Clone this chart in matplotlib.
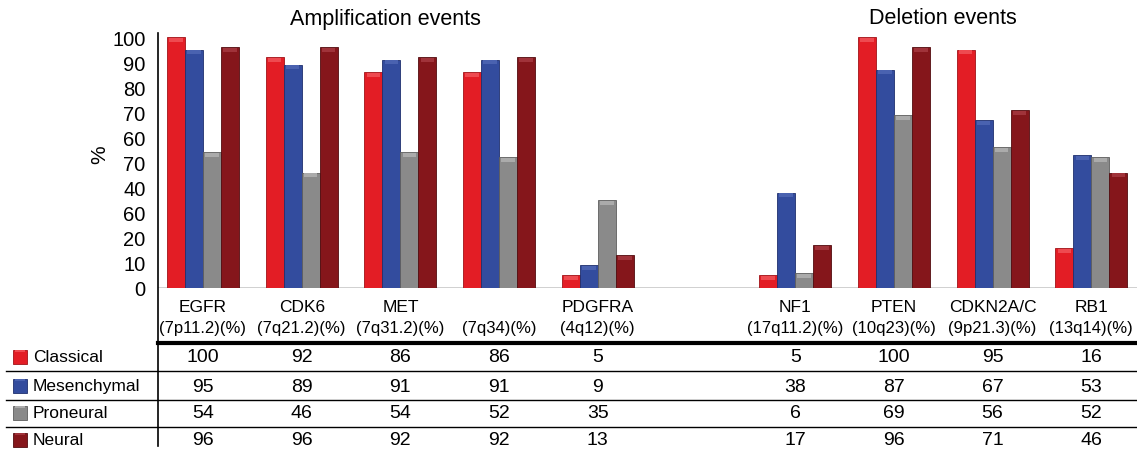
import matplotlib
matplotlib.use("Agg")
import matplotlib.pyplot as plt
import matplotlib.transforms as mtransforms
from matplotlib.lines import Line2D
from matplotlib.patches import Rectangle

plt.rcParams['font.family'] = ['Liberation Sans Narrow', 'Liberation Sans', 'DejaVu Sans']

# ---- data ----
genes = ["EGFR", "CDK6", "MET", "", "PDGFRA", "NF1", "PTEN", "CDKN2A/C", "RB1"]
loci = ["(7p11.2)(%)", "(7q21.2)(%)", "(7q31.2)(%)", "(7q34)(%)", "(4q12)(%)",
        "(17q11.2)(%)", "(10q23)(%)", "(9p21.3)(%)", "(13q14)(%)"]
slots = [0, 1, 2, 3, 4, 6, 7, 8, 9]
subtypes = ["Classical", "Mesenchymal", "Proneural", "Neural"]
classical = [100, 92, 86, 86, 5, 5, 100, 95, 16]
mesenchymal = [95, 89, 91, 91, 9, 38, 87, 67, 53]
proneural = [54, 46, 54, 52, 35, 6, 69, 56, 52]
neural = [96, 96, 92, 92, 13, 17, 96, 71, 46]
ytick_vals = [100, 90, 80, 70, 60, 50, 40, 30, 20, 10, 0]
ytick_labels = ["100", "90", "80", "70", "60", "70", "40", "60", "20", "10", "0"]
group_titles = ["Amplification events", "Deletion events"]

series = [classical, mesenchymal, proneural, neural]
colors = ["#E31D25", "#334C9E", "#8A8A8A", "#85161B"]
edges = ["#A01218", "#1F2F6E", "#5E5E5E", "#520C0F"]
tops = ["#EE4A50", "#4A62B0", "#ABABAB", "#A0333A"]

W, H = 1137, 452
fig = plt.figure(figsize=(W / 100, H / 100), dpi=100)

ax_left, ax_right = 158, 1137
y0_px = 289
ymax = 103
px_per_unit = 2.51
ax_top = y0_px - ymax * px_per_unit
ax = fig.add_axes([ax_left / W, 1 - y0_px / H, (ax_right - ax_left) / W,
                   (y0_px - ax_top) / H])
slot_px = 98.7
c0 = 203
ax.set_xlim((ax_left - c0) / slot_px, (ax_right - c0) / slot_px)
ax.set_ylim(0, ymax)

bw = 18 / slot_px
offsets = [-1.5, -0.5, 0.5, 1.5]
for vals, off, col, ec, tc in zip(series, offsets, colors, edges, tops):
    xs = [s + off * bw for s in slots]
    ax.bar(xs, vals, width=bw, color=col, edgecolor=ec, linewidth=0.6, zorder=2)
    cap = [min(1.6, v * 0.4) for v in vals]
    ax.bar(xs, cap, width=bw * 0.75, bottom=[v - c - 0.3 for v, c in zip(vals, cap)],
           color=tc, edgecolor='none', zorder=3)

for sp in ax.spines.values():
    sp.set_visible(False)
ax.set_xticks([])
ax.set_yticks(ytick_vals)
ax.set_yticklabels(ytick_labels, fontsize=14.5)
ax.tick_params(axis='y', length=0, pad=9)
ax.axhline(0, color='#C8C8C8', lw=1.2, zorder=1)
ax.set_ylabel("%", fontsize=15)
ax.yaxis.set_label_coords(-0.050, 0.52)

tr_mix = mtransforms.blended_transform_factory(ax.transData, fig.transFigure)

def fy(p):
    return 1 - p / H

ax.text(1.85, fy(19), group_titles[0], transform=tr_mix, ha='center',
        va='center', fontsize=15.5)
ax.text(7.5, fy(19), group_titles[1], transform=tr_mix, ha='center',
        va='center', fontsize=15.5)

for s, g, l in zip(slots, genes, loci):
    if g:
        ax.text(s, fy(307), g, transform=tr_mix, ha='center', va='center',
                fontsize=12.5)
    ax.text(s, fy(328), l, transform=tr_mix, ha='center', va='center',
            fontsize=12)

row_y = [358, 387, 414, 441]
for vals, ry in zip(series, row_y):
    for s, v in zip(slots, vals):
        ax.text(s, fy(ry), str(v), transform=tr_mix, ha='center',
                va='center', fontsize=14)

for name, ry, col, ec, tc in zip(subtypes, row_y, colors, edges, tops):
    fig.patches.append(Rectangle((13 / W, fy(ry + 7)), 14 / W, 14 / H,
                                 transform=fig.transFigure, facecolor=col,
                                 edgecolor=ec, lw=0.6))
    fig.patches.append(Rectangle((15 / W, fy(ry - 5)), 10 / W, 2 / H,
                                 transform=fig.transFigure, facecolor=tc,
                                 edgecolor='none'))
    fig.text(33 / W, fy(ry), name, ha='left', va='center', fontsize=12.5)

fig.add_artist(Line2D([158 / W, 158 / W], [fy(34), fy(447)], color='black',
                      lw=1.2, transform=fig.transFigure))
fig.add_artist(Line2D([158 / W, 1.0], [fy(344), fy(344)], color='black',
                      lw=3.0, transform=fig.transFigure))
for ly in [372, 401, 428]:
    fig.add_artist(Line2D([6 / W, 1.0], [fy(ly), fy(ly)], color='black',
                          lw=1.0, transform=fig.transFigure))

fig.savefig("out.png", dpi=100)
